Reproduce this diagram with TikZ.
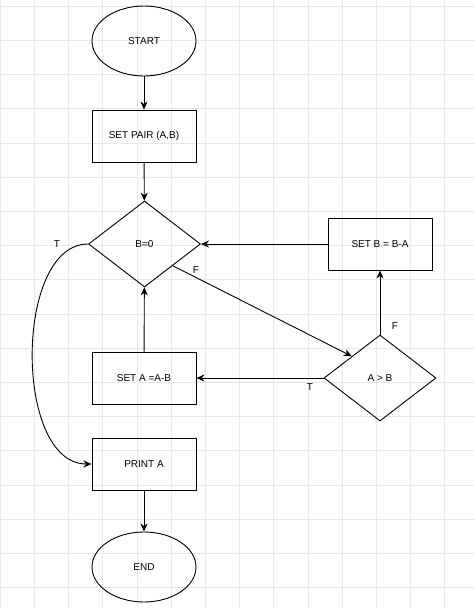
\documentclass[tikz,border=0pt]{standalone}
\usepackage{fontspec}
\setmainfont{Liberation Sans}
\usetikzlibrary{shapes.geometric, arrows.meta}

\begin{document}
\begin{tikzpicture}
                [x=1pt, y=-1pt, font=\fontsize{10}{12}\selectfont,
                tsty/.style={ellipse, draw, line width=0.9pt, inner sep=0pt, minimum width=104pt, minimum height=70pt},
                psty/.style={rectangle, draw, line width=0.9pt, inner sep=0pt, minimum width=104pt, minimum height=52pt},
                dsty/.style={diamond, draw, line width=0.9pt, inner sep=0pt, minimum width=112pt, minimum height=86pt},
                asty/.style={-{Stealth[length=8pt, width=7pt, inset=2.5pt]}, line width=0.9pt},
                gsty/.style={draw=black!9, line width=0.6pt}]
                \useasboundingbox (0,0) rectangle (474,608);
                % grid
                \foreach \k in {0,...,13} \draw[gsty] (\k*34.2,0) -- (\k*34.2,608);
                \foreach \k in {0,...,17} \draw[gsty] (0,6+\k*34.2) -- (474,6+\k*34.2);
                % nodes
                \node[tsty] (start) at (144,41)  {START};
                \node[psty] (pair)  at (144,136) {SET PAIR (A,B)};
                \node[dsty] (bz)    at (144.5,244) {B=0};
                \node[psty] (setb)  at (380,244) {SET B = B-A};
                \node[dsty] (agb)   at (380,378) {A {\textgreater} B};
                \node[psty] (seta)  at (144,378) {SET A =A-B};
                \node[psty] (prt)   at (144,464) {PRINT A};
                \node[tsty] (stop)  at (144,567) {END};
                % edges
                \draw[asty] (start) -- (pair);
                \draw[asty] (pair) -- (bz);
                \draw[asty] (setb) -- (bz);
                \draw[asty] (seta) -- (bz);
                \draw[asty] (agb) -- (setb);
                \draw[asty] (agb) -- (seta);
                \draw[asty] (bz.south east) -- (agb.north west);
                \draw[asty] (bz.west) .. controls +(-74,0) and +(-78,0) .. (prt.west);
                \draw[asty] (prt) -- (stop);
                % labels
                \node (lt1) at (57,244)  {T};
                \node (lf1) at (196,270) {F};
                \node (lf2) at (395,326) {F};
                \node (lt2) at (310,387) {T};
            \end{tikzpicture}
\end{document}
